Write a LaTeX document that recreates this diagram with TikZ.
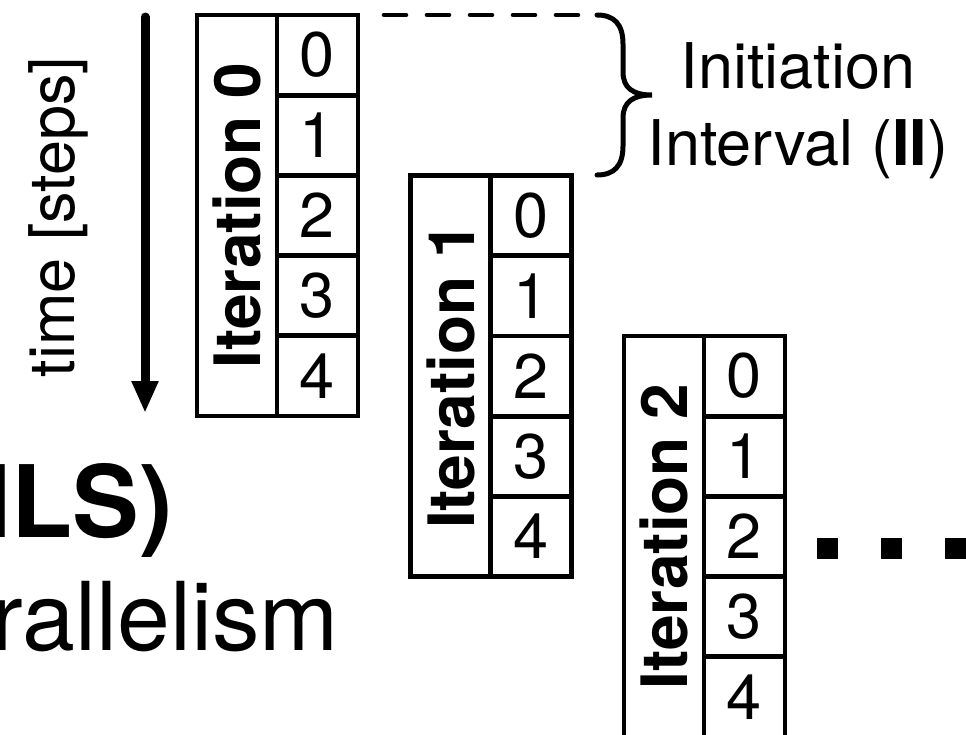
\documentclass[tikz,border=0pt]{standalone}
\usepackage{fontspec}
\setmainfont{TeX Gyre Heros}
\usetikzlibrary{arrows.meta}

\tikzset{
  txt/.style={font=\fontsize{63}{70}\selectfont, inner sep=0pt},
  labelcol/.style={draw, line width=4.8pt, rotate=90, inner sep=0pt,
    minimum width=401pt, minimum height=80pt,
    font=\fontsize{64}{70}\selectfont\bfseries},
  stepcell/.style={draw, line width=4.8pt, inner sep=0pt,
    minimum width=81pt, minimum height=80.2pt,
    font=\fontsize{63}{70}\selectfont},
  dotsq/.style={fill=black, inner sep=0pt, minimum size=21pt},
  timearrow/.style={line width=9pt, line cap=round,
    -{Triangle[length=32pt,width=25pt]}},
  bracepath/.style={line width=5pt, line cap=round},
  guide/.style={line width=4.6pt, line cap=round, dash pattern=on 22pt off 21pt}
}

\begin{document}
\begin{tikzpicture}[x=1pt, y=-1pt]
  \useasboundingbox (0,0) rectangle (966,734);
  \clip (0,0) rectangle (966,734);

  % headline text at the left edge
  \node[anchor=base east, inner sep=0pt, font=\fontsize{100}{110}\selectfont\bfseries]
    (hls) at (173,537) {HLS)};
  \node[anchor=base east, inner sep=0pt, font=\fontsize{95}{105}\selectfont]
    (par) at (339,650) {rallelism};

  % time axis
  \coordinate (tA) at (145,17);
  \coordinate (tB) at (145,413);
  \draw[timearrow] (tA) -- (tB);
  \node[txt, rotate=90] (timelabel) at (58,217) {time [steps]};

  % pipelined iterations, each shifted by the initiation interval
  \foreach \k in {0,1,2}{
    \pgfmathsetmacro{\lx}{197+213.5*\k}
    \pgfmathsetmacro{\ty}{15+160.5*\k}
    \node[labelcol] (it\k) at (\lx+40,\ty+200.5) {Iteration \k};
    \foreach \r in {0,...,4}{
      \node[stepcell] (it\k-\r) at (\lx+120.5,\ty+40.1+80.2*\r) {\r};
    }
  }

  % initiation interval marker
  \coordinate (ddA) at (384,15);
  \coordinate (brTop) at (597,15);
  \coordinate (brTip) at (652,95);
  \coordinate (brBot) at (597,175);
  \draw[guide] (ddA) -- (brTop);
  \draw[bracepath] (brTop) .. controls (614,15) and (623,24) .. (623,44)
    -- (623,72) .. controls (623,88) and (633,95) .. (brTip)
    .. controls (633,95) and (623,102) .. (623,118)
    -- (623,146) .. controls (623,166) and (614,175) .. (brBot);
  \node[txt, anchor=base] (ii1) at (798,88) {Initiation};
  \node[txt, anchor=base] (ii2) at (798,165) {Interval (\textbf{II})};

  % continuation dots
  \node[dotsq] (d1) at (827.5,548.5) {};
  \node[dotsq] (d2) at (891.5,548.5) {};
  \node[dotsq] (d3) at (955.5,548.5) {};
\end{tikzpicture}
\end{document}
